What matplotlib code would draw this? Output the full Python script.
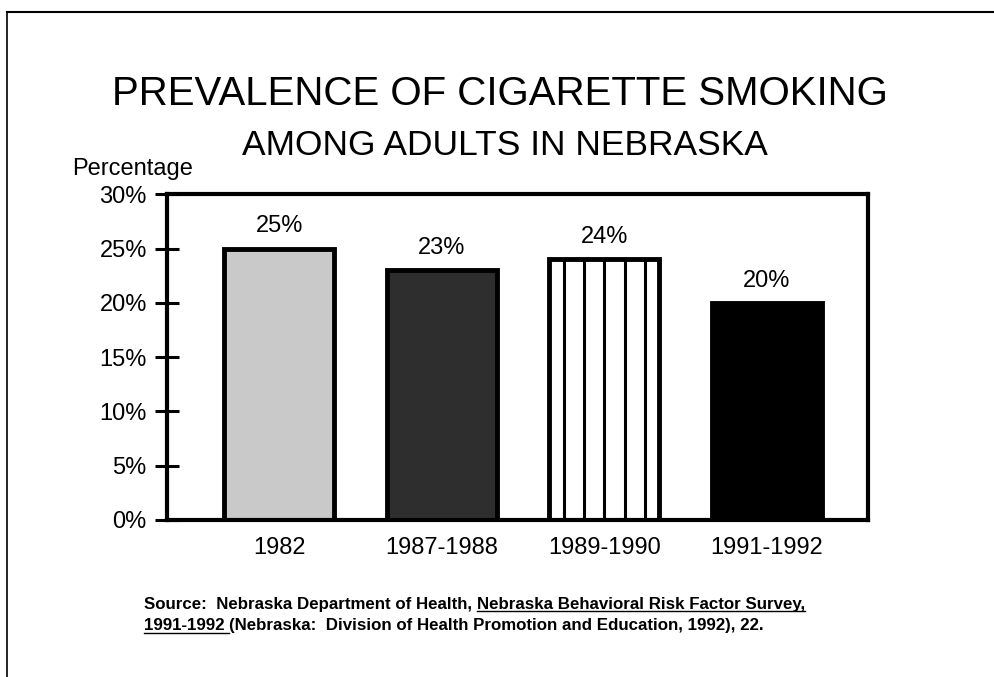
import matplotlib
matplotlib.use("Agg")
from matplotlib import pyplot as plt
from matplotlib.lines import Line2D

plt.rcParams["font.family"] = ["Liberation Sans", "DejaVu Sans"]

periods = ["1982", "1987-1988", "1989-1990", "1991-1992"]
smoking_pct = [25, 23, 24, 20]
bar_labels = ["25%", "23%", "24%", "20%"]
y_ticks = [0, 5, 10, 15, 20, 25, 30]

fig = plt.figure(figsize=(9.94, 6.77), dpi=100)
ax = fig.add_axes([0.168, 0.232, 0.705, 0.481])

fills = ["#c9c9c9", "#2e2e2e", "white", "black"]
striped = [False, False, True, False]
bar_w = 0.675
x = list(range(len(periods)))
bars = ax.bar(x, smoking_pct, width=bar_w, color=fills, edgecolor="black", linewidth=3.5, zorder=2)

# vertical stripes inside the third bar
for xi, v, s in zip(x, smoking_pct, striped):
    if s:
        for k in (-2, -1, 0, 1, 2):
            ax.vlines(xi + k * 0.125, 0, v, color="black", lw=2.2, zorder=3)

for xi, v, lab in zip(x, smoking_pct, bar_labels):
    ax.annotate(lab, (xi, v), xytext=(0, 8), textcoords="offset points",
                ha="center", va="bottom", fontsize=17)

ax.set_xlim(-0.69, 3.62)
ax.set_ylim(0, 30)
ax.set_yticks(y_ticks)
ax.set_yticklabels([f"{t}%" for t in y_ticks])
ax.set_xticks(x)
ax.set_xticklabels(periods)
ax.tick_params(axis="y", direction="inout", length=17, width=2.2, labelsize=17, pad=6)
ax.tick_params(axis="x", length=0, labelsize=17, pad=12)
for s in ax.spines.values():
    s.set_linewidth(3)
    s.set_zorder(4)

fig.text(0.503, 0.845, "PREVALENCE OF CIGARETTE SMOKING", ha="center", va="baseline", fontsize=29)
fig.text(0.508, 0.771, "AMONG ADULTS IN NEBRASKA", ha="center", va="baseline", fontsize=25.5)
fig.text(0.073, 0.7415, "Percentage", ha="left", va="baseline", fontsize=17)

# outer border (top and left only visible)
fig.add_artist(Line2D([0.007, 0.007], [0.0, 0.982], color="black", lw=1.2))
fig.add_artist(Line2D([0.007, 1.0], [0.982, 0.982], color="black", lw=1.5))

# source note with underlined parts
renderer = fig.canvas.get_renderer()


def draw_parts(parts, x0, y0):
    xpos = x0
    for txt, under in parts:
        t = fig.text(xpos, y0, txt, ha="left", va="baseline", fontsize=12.2, fontweight="bold")
        bb = t.get_window_extent(renderer=renderer)
        x1 = xpos + bb.width / fig.bbox.width
        if under:
            fig.add_artist(Line2D([xpos, x1], [y0 - 0.004, y0 - 0.004], color="black", lw=1))
        xpos = x1


draw_parts([("Source:  Nebraska Department of Health, ", False),
            ("Nebraska Behavioral Risk Factor Survey,", True)], 0.145, 0.101)
draw_parts([("1991-1992 ", True),
            ("(Nebraska:  Division of Health Promotion and Education, 1992), 22.", False)], 0.145, 0.069)

fig.savefig("out.png", dpi=100)
